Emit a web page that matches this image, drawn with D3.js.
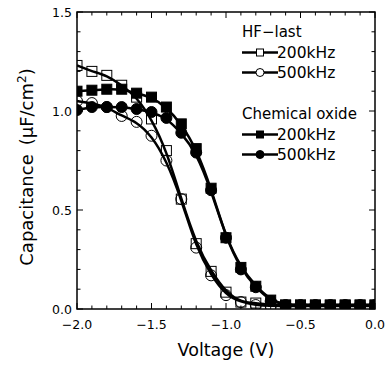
<!DOCTYPE html>
<html>
<head>
<meta charset="utf-8">
<script src="https://cdn.jsdelivr.net/npm/d3@7"></script>
<style>
  body { margin: 0; background: #fff; }
  text { font-family: "DejaVu Sans", Arial, sans-serif; fill: #000; }
</style>
</head>
<body>
<div id="chart"></div>
<script>
// gate voltage (V)
const voltage = [-2.0, -1.9, -1.8, -1.7, -1.6, -1.5, -1.4, -1.3, -1.2, -1.1, -1.0,
                 -0.9, -0.8, -0.7, -0.6, -0.5, -0.4, -0.3, -0.2, -0.1, 0.0];
// capacitance (uF/cm2)
const hf200 = [1.23, 1.20, 1.18, 1.13, 1.07, 0.96, 0.80, 0.555, 0.33, 0.19, 0.085,
               0.035, 0.03, 0.02, 0.02, 0.02, 0.02, 0.02, 0.02, 0.02, 0.02];
const hf500 = [1.05, 1.04, 1.02, 0.975, 0.945, 0.875, 0.75, 0.555, 0.31, 0.17, 0.07,
               0.035, 0.02, 0.015, 0.015, 0.015, 0.015, 0.015, 0.015, 0.015, 0.015];
const chem200 = [1.10, 1.105, 1.11, 1.11, 1.09, 1.07, 1.02, 0.935, 0.81, 0.61, 0.36,
                 0.21, 0.115, 0.045, 0.02, 0.02, 0.02, 0.02, 0.02, 0.02, 0.02];
const chem500 = [1.005, 1.02, 1.02, 1.02, 1.01, 0.995, 0.965, 0.89, 0.79, 0.60, 0.36,
                 0.20, 0.11, 0.04, 0.02, 0.02, 0.02, 0.02, 0.02, 0.02, 0.02];

const xTicks = [-2.0, -1.5, -1.0, -0.5, 0.0];
const yTicks = [0.0, 0.5, 1.0, 1.5];

const series = [
  { name: "200kHz", values: hf200, shape: "square", filled: false },
  { name: "500kHz", values: hf500, shape: "circle", filled: false },
  { name: "200kHz", values: chem200, shape: "square", filled: true },
  { name: "500kHz", values: chem500, shape: "circle", filled: true }
];

const width = 387, height = 365;
const margin = { top: 12, right: 12, bottom: 56, left: 77 };
const w = width - margin.left - margin.right;
const h = height - margin.top - margin.bottom;

const svg = d3.select("#chart").append("svg")
    .attr("width", width)
    .attr("height", height);

const g = svg.append("g")
    .attr("transform", `translate(${margin.left},${margin.top})`);

const x = d3.scaleLinear().domain([-2, 0]).range([0, w]);
const y = d3.scaleLinear().domain([0, 1.5]).range([h, 0]);

g.append("clipPath").attr("id", "clip")
  .append("rect").attr("width", w).attr("height", h);

const fmt = d => (d < 0 ? "\u2212" : "") + Math.abs(d).toFixed(1);

// ticks, pointing inward on all four sides
const minorX = d3.range(-20, 1).map(i => i / 10);
const minorY = d3.range(0, 16).map(i => i / 10);
const isMajor = v => Math.abs(v * 2 - Math.round(v * 2)) < 1e-6;

const ticks = g.append("g").attr("stroke", "#000").attr("stroke-width", 1);
minorX.forEach(v => {
  const len = isMajor(v) ? 6 : 3.5;
  ticks.append("line").attr("x1", x(v)).attr("x2", x(v)).attr("y1", h).attr("y2", h - len);
  ticks.append("line").attr("x1", x(v)).attr("x2", x(v)).attr("y1", 0).attr("y2", len);
});
minorY.forEach(v => {
  const len = isMajor(v) ? 6 : 3.5;
  ticks.append("line").attr("x1", 0).attr("x2", len).attr("y1", y(v)).attr("y2", y(v));
  ticks.append("line").attr("x1", w).attr("x2", w - len).attr("y1", y(v)).attr("y2", y(v));
});

g.append("rect")
    .attr("width", w).attr("height", h)
    .attr("fill", "none").attr("stroke", "#000").attr("stroke-width", 1.5);

g.selectAll(".xlab").data(xTicks).enter().append("text")
    .attr("x", d => x(d)).attr("y", h + 20)
    .attr("text-anchor", "middle")
    .style("font-size", "12.5px")
    .text(fmt);

g.selectAll(".ylab").data(yTicks).enter().append("text")
    .attr("x", -5).attr("y", d => y(d) + 5)
    .attr("text-anchor", "end")
    .style("font-size", "12.5px")
    .text(fmt);

svg.append("text")
    .attr("x", 226).attr("y", 356)
    .attr("text-anchor", "middle")
    .style("font-size", "17.5px")
    .text("Voltage (V)");

const yl = svg.append("text")
    .attr("transform", `translate(33,167) rotate(-90)`)
    .attr("text-anchor", "middle")
    .style("font-size", "18px");
yl.append("tspan").text("Capacitance\u2002(\u03bcF/cm");
yl.append("tspan").attr("dy", -7).style("font-size", "12px").text("2");
yl.append("tspan").attr("dy", 7).text(")");

// curves
const plot = g.append("g").attr("clip-path", "url(#clip)");
const line = d3.line()
    .x((d, i) => x(voltage[i]))
    .y(d => y(d))
    .curve(d3.curveBasis);

series.forEach(s => {
  plot.append("path")
      .attr("d", line(s.values))
      .attr("fill", "none")
      .attr("stroke", "#000")
      .attr("stroke-width", 2.5);
});

function marker(sel, s, size, openFill) {
  if (s.shape === "square") {
    sel.append("rect")
        .attr("x", -size / 2).attr("y", -size / 2)
        .attr("width", size).attr("height", size)
        .attr("fill", s.filled ? "#000" : openFill)
        .attr("stroke", "#000").attr("stroke-width", 1);
  } else {
    sel.append("circle")
        .attr("r", size / 2 + 0.5)
        .attr("fill", s.filled ? "#000" : openFill)
        .attr("stroke", "#000").attr("stroke-width", 1);
  }
}

series.forEach(s => {
  plot.selectAll(null).data(s.values).enter().append("g")
      .attr("transform", (d, i) => `translate(${x(voltage[i])},${y(d)})`)
      .each(function () { marker(d3.select(this), s, 10, "none"); });
});

// legend
const legend = svg.append("g");
const legendRows = [
  { title: "HF\u2212last", y: 37, items: [series[0], series[1]] },
  { title: "Chemical oxide", y: 119, items: [series[2], series[3]] }
];
legendRows.forEach(grp => {
  legend.append("text")
      .attr("x", 242).attr("y", grp.y)
      .style("font-size", "15px")
      .text(grp.title);
  grp.items.forEach((s, j) => {
    const ly = grp.y + 15.5 + j * 20;
    legend.append("line")
        .attr("x1", 242).attr("x2", 278)
        .attr("y1", ly).attr("y2", ly)
        .attr("stroke", "#000").attr("stroke-width", 2.5);
    const m = legend.append("g").attr("transform", `translate(260,${ly})`);
    marker(m, s, 7, "#fff");
    legend.append("text")
        .attr("x", 277).attr("y", ly + 5.5)
        .style("font-size", "15.5px")
        .text(s.name);
  });
});
</script>
</body>
</html>
